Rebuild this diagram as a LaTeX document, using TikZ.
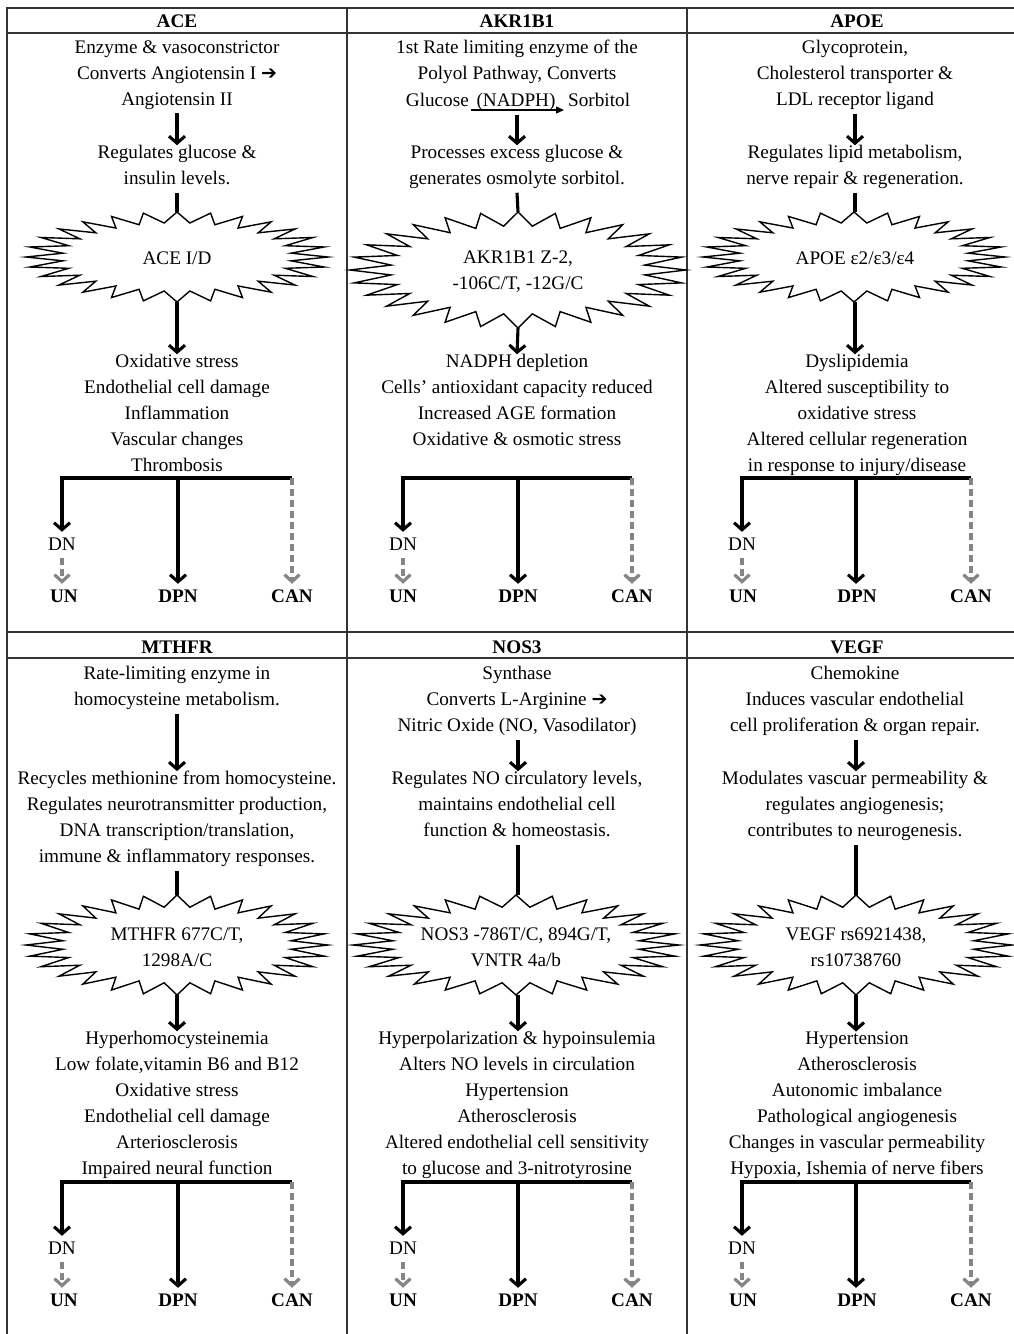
\documentclass[tikz,border=0pt]{standalone}
\usepackage{fontspec}
\setmainfont{Liberation Serif}
\newfontfamily\djv{DejaVu Sans}
\usetikzlibrary{arrows.meta}
\newcommand\fs{\fontsize{19.2}{26}\selectfont}
\newcommand\rarr{{\djv\fontsize{19}{19}\selectfont ➔}}
\newcommand\burst[4]{\draw[burstline] plot[variable=\k, samples at={0,...,55}] ({#1+#3*(1-0.24*mod(\k,2))*cos(\k*45/7)},{#2+#4*(1-0.24*mod(\k,2))*sin(\k*45/7)}) -- cycle;}
\newcommand\branchfor[1]{%
 \draw[arr] (j#1) -- (dn#1.north |- j#1) -- (dn#1.north);
 \draw[ln] (j#1) -- (can#1.north |- j#1);
 \draw[garr] (can#1.north |- j#1) -- (can#1.north);
 \draw[arr] (j#1) -- (j#1 |- dpn#1.north);
 \draw[garr] (dn#1.south) -- (dn#1.south |- un#1.north);
}
\tikzset{
 txt0/.style={inner sep=0pt, align=center, font=\fs, execute at begin node=\strut, execute at end node=\strut},
 txt/.style={txt0, yshift=-3pt},
 ltxt/.style={txt0, yshift=-1pt},
 btxt/.style={ltxt, font=\fs\bfseries},
 hd/.style={inner sep=0pt, font=\fs\bfseries},
 ln/.style={line width=3.1pt, draw=black},
 arr/.style={ln, line join=miter, -{Straight Barb[length=7pt,width=16pt]}},
 garr/.style={line width=3.2pt, draw=black!48, dash pattern=on 7pt off 4pt, -{Straight Barb[length=7pt,width=15pt]}},
 thinarr/.style={line width=1.3pt, -{Triangle[length=8pt,width=7pt]}},
 gridline/.style={line width=1.9pt, draw=black!80},
 burstline/.style={line width=1.4pt, fill=white, draw=black, line join=miter},
}
\begin{document}
\begin{tikzpicture}[x=1pt,y=-1pt]
\useasboundingbox (0,0) rectangle (1014,1334);
% table
\draw[gridline] (7,1334) -- (7,8) -- (1014,8);
\draw[gridline] (7,33) -- (1014,33);
\draw[gridline] (7,632) -- (1014,632);
\draw[gridline] (7,658) -- (1014,658);
\draw[gridline] (347,8) -- (347,1334);
\draw[gridline] (687,8) -- (687,1334);
% headers
\node[hd] (h1) at (177,21) {ACE};
\node[hd] (h2) at (517,21) {AKR1B1};
\node[hd] (h3) at (857,21) {APOE};
\node[hd] (h4) at (177,647) {MTHFR};
\node[hd] (h5) at (517,647) {NOS3};
\node[hd] (h6) at (857,647) {VEGF};

% ===== Panel 1: ACE
\node[txt] (a1) at (177,74) {Enzyme \& vasoconstrictor\\Converts Angiotensin I \rarr\\Angiotensin II};
\node[txt] (b1) at (177,166) {Regulates glucose \&\\insulin levels.};
\burst{177}{257}{151}{45}
\coordinate (s1t) at (177,212);
\coordinate (s1b) at (177,302);
\node[ltxt] (s1) at (177,258) {ACE I/D};
\node[txt] (c1) at (177,414) {Oxidative stress\\Endothelial cell damage\\Inflammation\\Vascular changes\\Thrombosis};
\coordinate (j1) at (178,478);
\node[ltxt] (dn1) at (62,544) {DN};
\node[btxt] (un1) at (64,596) {UN};
\node[btxt] (dpn1) at (178,596) {DPN};
\node[btxt] (can1) at (292,596) {CAN};
\draw[arr] (a1.south) -- (b1.north);
\draw[ln] (b1.south) -- (s1t);
\draw[arr] (s1b) -- (c1.north);
\branchfor{1}

% ===== Panel 2: AKR1B1
\node[txt] (a2) at (517,61) {1st Rate limiting enzyme of the\\Polyol Pathway, Converts};
\node[ltxt, anchor=base east] (g2) at (469,105.5) {Glucose};
\node[ltxt, anchor=base] (n2) at (516,105.5) {(NADPH)};
\node[ltxt, anchor=base west] (o2) at (568,105.5) {Sorbitol};
\draw[thinarr] ([xshift=2pt,yshift=-3.5pt]g2.base east) -- ([xshift=-4pt,yshift=-3.5pt]o2.base west);
\node[txt] (b2) at (517,166) {Processes excess glucose \&\\generates osmolyte sorbitol.};
\burst{518}{270}{168}{58}
\coordinate (s2t) at (518,212);
\coordinate (s2b) at (518,328);
\node[txt] (s2) at (518,271) {AKR1B1 Z-2,\\-106C/T, -12G/C};
\node[txt] (c2) at (517,401) {NADPH depletion\\Cells' antioxidant capacity reduced\\Increased AGE formation\\Oxidative \& osmotic stress};
\coordinate (j2) at (518,478);
\node[ltxt] (dn2) at (403,544) {DN};
\node[btxt] (un2) at (403,596) {UN};
\node[btxt] (dpn2) at (518,596) {DPN};
\node[btxt] (can2) at (632,596) {CAN};
\draw[arr] (b2.north |- n2.south) -- (b2.north);
\draw[ln] (b2.south) -- (s2t);
\draw[arr] (s2b) -- (c2.north);
\branchfor{2}

% ===== Panel 3: APOE
\node[txt] (a3) at (855,74) {Glycoprotein,\\Cholesterol transporter \&\\LDL receptor ligand};
\node[txt] (b3) at (855,166) {Regulates lipid metabolism,\\nerve repair \& regeneration.};
\burst{854}{257}{151}{45}
\coordinate (s3t) at (855,212);
\coordinate (s3b) at (855,302);
\node[ltxt] (s3) at (855,258) {APOE ε2/ε3/ε4};
\node[txt] (c3) at (857,414) {Dyslipidemia\\Altered susceptibility to\\oxidative stress\\Altered cellular regeneration\\in response to injury/disease};
\coordinate (j3) at (856,478);
\node[ltxt] (dn3) at (742,544) {DN};
\node[btxt] (un3) at (743,596) {UN};
\node[btxt] (dpn3) at (857,596) {DPN};
\node[btxt] (can3) at (971,596) {CAN};
\draw[arr] (a3.south) -- (b3.north);
\draw[ln] (b3.south) -- (s3t);
\draw[arr] (s3b) -- (s3b |- c3.north);
\branchfor{3}

% ===== Panel 4: MTHFR
\node[txt] (a4) at (177,687) {Rate-limiting enzyme in\\homocysteine metabolism.};
\node[txt] (b4) at (177,818) {Recycles methionine from homocysteine.\\Regulates neurotransmitter production,\\DNA transcription/translation,\\immune \& inflammatory responses.};
\burst{177}{945}{151}{50}
\coordinate (s4t) at (177,895);
\coordinate (s4b) at (177,995);
\node[txt] (s4) at (177,948) {MTHFR 677C/T,\\1298A/C};
\node[txt] (c4) at (177,1104) {Hyperhomocysteinemia\\Low folate,vitamin B6 and B12\\Oxidative stress\\Endothelial cell damage\\Arteriosclerosis\\Impaired neural function};
\coordinate (j4) at (178,1182);
\node[ltxt] (dn4) at (62,1248) {DN};
\node[btxt] (un4) at (64,1300) {UN};
\node[btxt] (dpn4) at (178,1300) {DPN};
\node[btxt] (can4) at (292,1300) {CAN};
\draw[arr] (a4.south) -- (b4.north);
\draw[ln] (b4.south) -- (s4t);
\draw[arr] (s4b) -- (c4.north);
\branchfor{4}

% ===== Panel 5: NOS3
\node[txt] (a5) at (517,700) {Synthase\\Converts L-Arginine \rarr\\Nitric Oxide (NO, Vasodilator)};
\node[txt] (b5) at (517,805) {Regulates NO circulatory levels,\\maintains endothelial cell\\function \& homeostasis.};
\burst{516}{945}{163}{50}
\coordinate (s5t) at (518,895);
\coordinate (s5b) at (518,995);
\node[txt] (s5) at (516,948) {NOS3 -786T/C, 894G/T,\\VNTR 4a/b};
\node[txt] (c5) at (517,1104) {Hyperpolarization \& hypoinsulemia\\Alters NO levels in circulation\\Hypertension\\Atherosclerosis\\Altered endothelial cell sensitivity\\to glucose and 3-nitrotyrosine};
\coordinate (j5) at (518,1182);
\node[ltxt] (dn5) at (403,1248) {DN};
\node[btxt] (un5) at (403,1300) {UN};
\node[btxt] (dpn5) at (518,1300) {DPN};
\node[btxt] (can5) at (632,1300) {CAN};
\draw[arr] (a5.south -| s5t) -- (b5.north -| s5t);
\draw[ln] (b5.south -| s5t) -- (s5t);
\draw[arr] (s5b) -- (c5.north -| s5b);
\branchfor{5}

% ===== Panel 6: VEGF
\node[txt] (a6) at (855,700) {Chemokine\\Induces vascular endothelial\\cell proliferation \& organ repair.};
\node[txt] (b6) at (855,805) {Modulates vascuar permeability \&\\regulates angiogenesis;\\contributes to neurogenesis.};
\burst{856}{945}{156}{50}
\coordinate (s6t) at (856,895);
\coordinate (s6b) at (856,995);
\node[txt] (s6) at (856,948) {VEGF rs6921438,\\rs10738760};
\node[txt] (c6) at (857,1104) {Hypertension\\Atherosclerosis\\Autonomic imbalance\\Pathological angiogenesis\\Changes in vascular permeability\\Hypoxia, Ishemia of nerve fibers};
\coordinate (j6) at (856,1182);
\node[ltxt] (dn6) at (742,1248) {DN};
\node[btxt] (un6) at (743,1300) {UN};
\node[btxt] (dpn6) at (857,1300) {DPN};
\node[btxt] (can6) at (971,1300) {CAN};
\draw[arr] (a6.south -| s6t) -- (b6.north -| s6t);
\draw[ln] (b6.south -| s6t) -- (s6t);
\draw[arr] (s6b) -- (c6.north -| s6b);
\branchfor{6}
\end{tikzpicture}
\end{document}
